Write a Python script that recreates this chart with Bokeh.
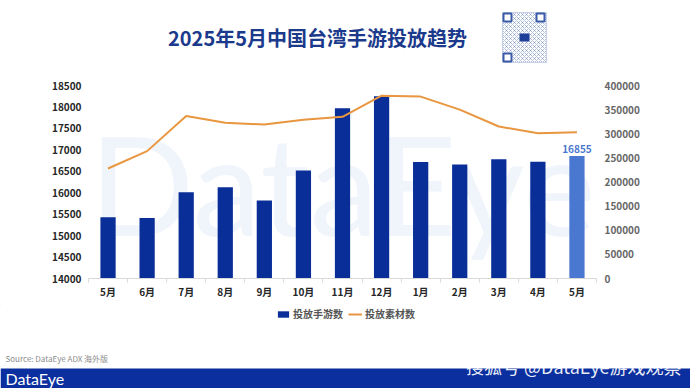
from bokeh.plotting import figure
from bokeh.layouts import column, row
from bokeh.models import (Range1d, LinearAxis, FixedTicker, Label,
                          ColumnDataSource, Legend, LegendItem, NumeralTickFormatter)
from bokeh.core.properties import value
from bokeh.embed import file_html
from bokeh.resources import INLINE

# ---------------- data ----------------
months = ["5月", "6月", "7月", "8月", "9月", "10月", "11月", "12月",
          "1月", "2月", "3月", "4月", "5月"]
games = [15430, 15410, 16010, 16125, 15820, 16520, 17970, 18250,
         16715, 16660, 16780, 16725, 16855]
creatives = [228000, 264000, 337000, 323000, 319000, 329000, 335000,
             379000, 377000, 350000, 315000, 301000, 303000]
left_ticks = [14000, 14500, 15000, 15500, 16000, 16500, 17000, 17500, 18000, 18500]
right_ticks = [0, 50000, 100000, 150000, 200000, 250000, 300000, 350000, 400000]
last_label = "16855"
series_names = ["投放手游数", "投放素材数"]
title_text = "2025年5月中国台湾手游投放趋势"
source_text = "Source: DataEye ADX 海外版"

FONT = "Noto Sans CJK SC"
DARK = "#0a2e98"
LIGHT = "#4a77cf"
ORANGE = "#e8963f"
BAND = "#0b2f9e"

W = 690
H_TOP, H_MAIN, H_BOT = 78, 227, 83
n = len(months)
xs = list(range(n))
colors = [DARK] * (n - 1) + [LIGHT]


def no_align(f):
    props = f.properties()
    if "frame_align" in props:
        f.frame_align = False
    return f


def blank(h):
    f = figure(width=W, height=h, output_backend="svg", toolbar_location=None,
               x_range=Range1d(0, W), y_range=Range1d(h, 0),
               min_border=0, outline_line_color=None,
               background_fill_color="white", border_fill_color="white")
    f.axis.visible = False
    f.grid.visible = False
    return no_align(f)


# ---------------- top: title + QR ----------------
top = blank(H_TOP)
top.text(x=[317], y=[37], text=[title_text], text_align="center",
         text_baseline="middle", text_font=value(FONT), text_font_size="20px",
         text_font_style="bold", text_color="#1b3a8c")
top.quad(left=[502], right=[546], top=[12], bottom=[62], fill_color="white",
         line_color="#c5d0e8", hatch_pattern="x", hatch_color="#5a74b4",
         hatch_alpha=0.45, hatch_scale=4)
top.quad(left=[503, 536, 503], right=[511, 544, 511], top=[13, 13, 53],
         bottom=[21, 21, 61], fill_color="white", line_color="#3a5aa8", line_width=2)
top.quad(left=[519], right=[529], top=[33], bottom=[41], fill_color="#1f3f98",
         line_color=None)

# ---------------- main chart ----------------
p = figure(width=W, height=H_MAIN, output_backend="svg", toolbar_location=None,
           x_range=Range1d(-0.5, n - 0.5), y_range=Range1d(14000, 18500),
           min_border_left=88, min_border_right=94, min_border_top=7,
           min_border_bottom=27, outline_line_color=None,
           background_fill_color="white", border_fill_color="white")
no_align(p)
p.grid.visible = False
p.xaxis.visible = False
p.yaxis.visible = False

p.add_layout(Label(x=(n - 1) / 2, y=16250, text="DataEye", text_align="center",
                   text_baseline="middle", text_font="Lato",
                   text_font_size="138px", text_color="#f0f4fb", level="underlay"))

src = ColumnDataSource(dict(x=xs, g=games, c=creatives, col=colors))
bars = p.vbar(x="x", top="g", bottom=14000, width=0.39, fill_color="col",
              line_color=None, source=src)

p.extra_y_ranges = {"right": Range1d(0, 400000)}
line = p.line(x="x", y="c", line_color=ORANGE, line_width=2, y_range_name="right",
              source=src)

xaxis = LinearAxis(ticker=FixedTicker(ticks=xs, minor_ticks=[i + 0.5 for i in range(-1, n)]),
                   major_label_overrides={i: m for i, m in enumerate(months)})
xaxis.axis_line_color = "#d9d9d9"
xaxis.major_tick_line_color = None
xaxis.major_tick_out = 0
xaxis.major_tick_in = 0
xaxis.minor_tick_line_color = "#d9d9d9"
xaxis.minor_tick_out = 4
xaxis.minor_tick_in = 0
xaxis.major_label_text_font = FONT
xaxis.major_label_text_font_size = "10px"
xaxis.major_label_text_font_style = "bold"
xaxis.major_label_text_color = "#262626"
xaxis.major_label_standoff = 1
p.add_layout(xaxis, "below")

laxis = LinearAxis(ticker=FixedTicker(ticks=left_ticks))
laxis.axis_line_color = None
laxis.major_tick_line_color = None
laxis.major_tick_out = 0
laxis.minor_tick_line_color = None
laxis.major_label_text_font = FONT
laxis.major_label_text_font_size = "10px"
laxis.major_label_text_font_style = "bold"
laxis.major_label_text_color = "#262626"
laxis.major_label_standoff = 7
p.add_layout(laxis, "left")

raxis = LinearAxis(y_range_name="right", ticker=FixedTicker(ticks=right_ticks),
                   formatter=NumeralTickFormatter(format="0"))
raxis.axis_line_color = None
raxis.major_tick_line_color = None
raxis.major_tick_out = 0
raxis.minor_tick_line_color = None
raxis.major_label_text_font = FONT
raxis.major_label_text_font_size = "10px"
raxis.major_label_text_font_style = "bold"
raxis.major_label_text_color = "#666666"
raxis.major_label_standoff = 8
p.add_layout(raxis, "right")

p.add_layout(Label(x=xs[-1], y=games[-1], text=last_label, text_align="center",
                   text_baseline="bottom", y_offset=3, text_font=FONT,
                   text_font_size="10px", text_font_style="bold", text_color=LIGHT))

# ---------------- bottom: legend, source, band ----------------
bot = blank(H_BOT)
# legend proxies (placed outside the visible range)
lb = bot.vbar(x=[-50], top=[-50], bottom=[-60], width=1, fill_color=DARK, line_color=None)
ll = bot.line(x=[-60, -50], y=[-50, -50], line_color=ORANGE, line_width=2)
legend = Legend(items=[LegendItem(label=series_names[0], renderers=[lb]),
                       LegendItem(label=series_names[1], renderers=[ll])],
                orientation="horizontal", location=(276, 67),
                label_text_font=FONT, label_text_font_size="10px",
                label_text_color="#555555", label_text_font_style="bold",
                glyph_width=14, glyph_height=8, label_standoff=3, spacing=5,
                padding=0, margin=0, border_line_color=None,
                background_fill_alpha=0)
bot.add_layout(legend, "center")

bot.text(x=[5], y=[53], text=[source_text], text_baseline="middle",
         text_font=value(FONT), text_font_size="8px", text_color="#8c8c8c")
bot.quad(left=[0], right=[W], top=[63], bottom=[H_BOT], fill_color=BAND,
         line_color=None)
bot.text(x=[5], y=[73], text=["DataEye"], text_baseline="middle",
         text_font=value("Lato"), text_font_size="16px", text_color="white")
bot.text(x=[681], y=[60], text=["搜狐号 @DataEye游戏观察"], text_align="right",
         text_baseline="middle", text_font=value(FONT), text_font_size="18px",
         text_color="white", text_alpha=0.92)

layout = column(row(top), p, row(bot), spacing=0)
open("out.html", "w").write(file_html(layout, INLINE))
